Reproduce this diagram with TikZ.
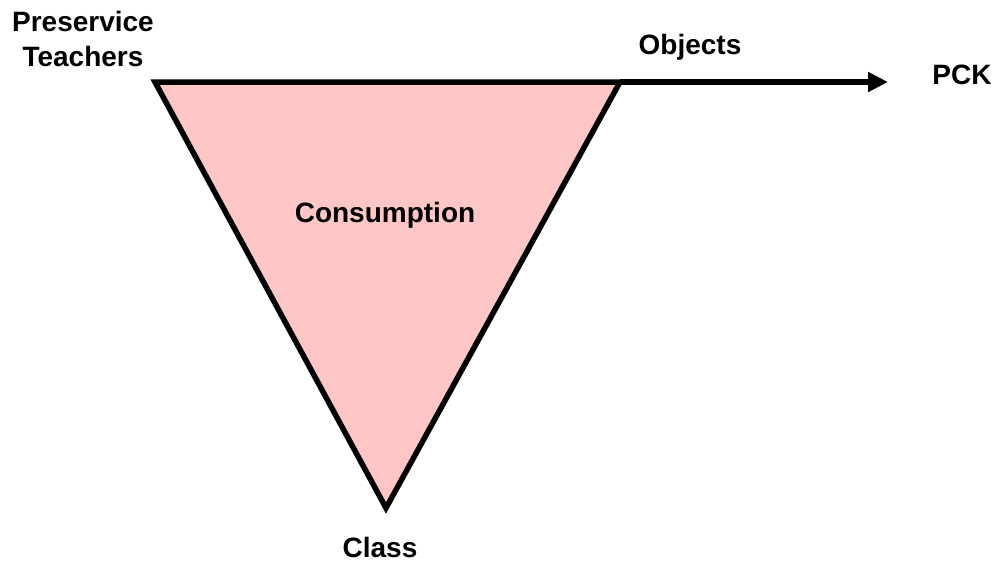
\documentclass[tikz,border=0pt]{standalone}
\usepackage{fontspec}
\setmainfont{Liberation Sans}
\usetikzlibrary{arrows.meta}
\definecolor{tripink}{RGB}{255,198,198}
\tikzset{
  lbl/.style={font=\fontsize{28}{35}\selectfont\bfseries, align=center, inner sep=0pt},
  edge/.style={line width=5.5pt, line join=miter, draw=black}
}
\begin{document}
\begin{tikzpicture}[x=1pt,y=-1pt]
\useasboundingbox (0,0) rectangle (1000,563);
\coordinate (tl) at (155,82);
\coordinate (tr) at (620,82);
\coordinate (bt) at (386,508);
\coordinate (end) at (888,82);
\filldraw[edge, fill=tripink] (tl) -- (tr) -- (bt) -- cycle;
\draw[line width=5.5pt, -{Triangle[length=20pt,width=19pt]}] (tr) -- (end);
\node[lbl] (pt) at (83,39) {Preservice\\Teachers};
\node[lbl] (ob) at (690,47) {Objects};
\node[lbl] (pck) at (962,75) {PCK};
\node[lbl] (con) at (385,215) {Consumption};
\node[lbl] (cl) at (380,547) {Class};
\end{tikzpicture}
\end{document}
